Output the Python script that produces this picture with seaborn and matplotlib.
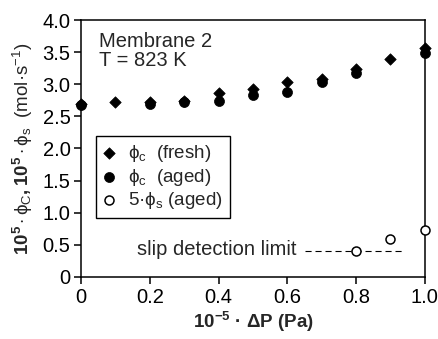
import numpy as np
import pandas as pd
import matplotlib
matplotlib.use("Agg")
import matplotlib.pyplot as plt
import seaborn as sns

# Pressure difference, 10^-5 * dP (Pa)
dp_fresh = [0.0, 0.1, 0.2, 0.3, 0.4, 0.5, 0.6, 0.7, 0.8, 0.9, 1.0]
phi_c_fresh = [2.70, 2.72, 2.73, 2.74, 2.86, 2.93, 3.03, 3.08, 3.24, 3.39, 3.56]

dp_aged = [0.0, 0.2, 0.3, 0.4, 0.5, 0.6, 0.7, 0.8, 1.0]
phi_c_aged = [2.67, 2.70, 2.72, 2.74, 2.83, 2.88, 3.04, 3.17, 3.48]

dp_slip = [0.8, 0.9, 1.0]
phi_s_aged_x5 = [0.40, 0.59, 0.73]

# Slip detection limit (dashed guide)
limit_x = [0.65, 0.94]
limit_y = [0.40, 0.40]

x_ticks = [0, 0.2, 0.4, 0.6, 0.8, 1.0]
x_tick_labels = ["0", "0.2", "0.4", "0.6", "0.8", "1.0"]
y_ticks = [0, 0.5, 1.0, 1.5, 2.0, 2.5, 3.0, 3.5, 4.0]
y_tick_labels = ["0", "0.5", "1.0", "1.5", "2.0", "2.5", "3.0", "3.5", "4.0"]

sns.set_style("ticks")
plt.rcParams["font.family"] = ["Liberation Sans", "DejaVu Sans"]
plt.rcParams["mathtext.fontset"] = "custom"
plt.rcParams["mathtext.rm"] = "Liberation Sans"
plt.rcParams["mathtext.it"] = "Liberation Sans:italic"
plt.rcParams["mathtext.bf"] = "Liberation Sans:bold"

fs_tick = 14.5
fs_text = 14.5
fs_leg = 13.5
fs_label = 13.5

fig = plt.figure(figsize=(4.38, 3.39), dpi=100)
ax = fig.add_axes([0.185, 0.183, 0.785, 0.758])

df_fresh = pd.DataFrame({"dp": dp_fresh, "phi": phi_c_fresh})
df_aged = pd.DataFrame({"dp": dp_aged, "phi": phi_c_aged})
df_slip = pd.DataFrame({"dp": dp_slip, "phi": phi_s_aged_x5})
df_limit = pd.DataFrame({"dp": limit_x, "phi": limit_y})

sns.lineplot(data=df_limit, x="dp", y="phi", ax=ax, color="black",
             linewidth=0.8, linestyle=(0, (5.5, 3.5)), zorder=1, legend=False)

sns.scatterplot(data=df_aged, x="dp", y="phi", ax=ax, marker="o", s=52,
                color="black", edgecolor="black", linewidth=0.5,
                label=r"ϕ$_\mathrm{c}$  (aged)", zorder=3, clip_on=False)
sns.scatterplot(data=df_fresh, x="dp", y="phi", ax=ax, marker="D", s=34,
                color="black", edgecolor="black", linewidth=0.5,
                label=r"ϕ$_\mathrm{c}$  (fresh)", zorder=4, clip_on=False)
sns.scatterplot(data=df_slip, x="dp", y="phi", ax=ax, marker="o", s=42,
                facecolor="white", edgecolor="black", linewidth=1.1,
                label=r"5·ϕ$_\mathrm{s}$ (aged)", zorder=5, clip_on=False)

ax.set_xlim(0, 1.0)
ax.set_ylim(0, 4.0)
ax.set_xticks(x_ticks)
ax.set_xticklabels(x_tick_labels)
ax.set_yticks(y_ticks)
ax.set_yticklabels(y_tick_labels)
ax.tick_params(axis="both", direction="out", length=5, width=1.1,
               labelsize=fs_tick, colors="black")
ax.tick_params(axis="x", pad=3)
ax.tick_params(axis="y", pad=2.5)
for sp in ax.spines.values():
    sp.set_visible(True)
    sp.set_linewidth(1.1)
    sp.set_color("black")

ax.set_xlabel(r"$\mathbf{10^{-5}}$ · ΔP (Pa)", fontsize=fs_label,
              fontweight="bold", labelpad=2)
ax.set_ylabel(r"$\mathbf{10^{5}\cdot}$ϕ$_\mathrm{C}$$\mathbf{,10^{5}\cdot}$ϕ$_\mathrm{s}$"
              r"  (mol·s$^{-1}$)", fontsize=fs_label)
ax.yaxis.set_label_coords(-0.135, 0.5)

ax.text(0.052, 3.58, "Membrane 2", fontsize=fs_text, ha="left", va="baseline")
ax.text(0.052, 3.28, "T = 823 K", fontsize=fs_text, ha="left", va="baseline")
ax.text(0.628, 0.34, "slip detection limit", fontsize=fs_text, ha="right",
        va="baseline")

handles, labels = ax.get_legend_handles_labels()
order = [1, 0, 2]
leg = ax.legend([handles[i] for i in order], [labels[i] for i in order],
                loc="upper left", bbox_to_anchor=(0.044, 0.549),
                borderaxespad=0, fontsize=fs_leg, frameon=True, fancybox=False,
                edgecolor="black", framealpha=1, labelspacing=0.12,
                handlelength=0.6, handletextpad=0.7, borderpad=0.4)
leg.get_frame().set_linewidth(1.0)

fig.savefig("out.png", dpi=100)
